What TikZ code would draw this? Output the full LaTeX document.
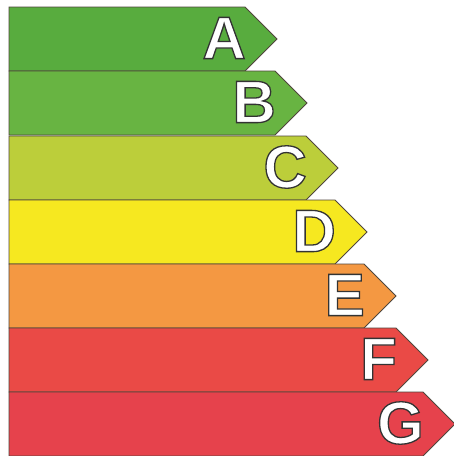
\documentclass[tikz,border=0pt]{standalone}
\usepackage{fontspec}
\setmainfont{Liberation Sans}
\definecolor{cA}{RGB}{88,172,62}
\definecolor{cB}{RGB}{104,180,66}
\definecolor{cC}{RGB}{188,206,58}
\definecolor{cD}{RGB}{246,232,32}
\definecolor{cE}{RGB}{244,152,66}
\definecolor{cF}{RGB}{234,74,70}
\definecolor{cG}{RGB}{230,66,76}
\definecolor{edge}{RGB}{80,70,60}
\newcommand{\outl}[1]{\textcolor{white}{\special{pdf:code 2 Tr 1.3 w 0.2 0.2 0.2 RG}#1\special{pdf:code 0 Tr}}}
\begin{document}
\begin{tikzpicture}[x=1pt,y=-1pt,
  band/.style={draw=edge,line width=0.9pt,line join=miter},
  lettr/.style={anchor=east,inner sep=0pt,font=\fontsize{60}{60}\selectfont\bfseries}]
\useasboundingbox (0,0) rectangle (454,456);
\fill[white] (0,0) rectangle (454,456);
\foreach \i/\L/\e/\t in {0/A/245/7,1/B/275/71,2/C/306/136,3/D/335/200,4/E/364/264,5/F/396/328,6/G/423/392}{
  \pgfmathsetmacro{\b}{\t+64}
  \pgfmathsetmacro{\m}{\t+32}
  \pgfmathsetmacro{\tip}{\e+32}
  \path[band,fill=c\L] (9,\t) -- (\e,\t) -- (\tip,\m) -- (\e,\b) -- (9,\b) -- cycle;
  \node[lettr] (l\L) at (\e+1,\m-1) {\outl{\L}};
}
\end{tikzpicture}
\end{document}
